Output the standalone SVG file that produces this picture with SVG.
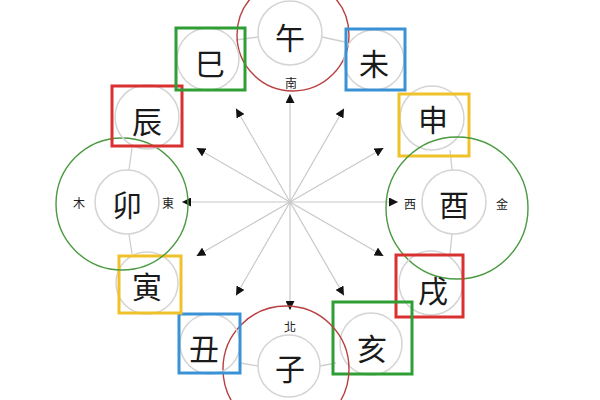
<svg xmlns="http://www.w3.org/2000/svg" width="600" height="400" viewBox="0 0 600 400">
<style>
.bg{fill:#ffffff}
.node{fill:none;stroke:#d4d4d4;stroke-width:1.5}
.ch{font-family:"Noto Sans CJK TC","Noto Sans CJK SC",sans-serif;font-size:30px;fill:#1a1a1a;text-anchor:middle;dominant-baseline:central}
.sm{font-family:"Noto Sans CJK TC","Noto Sans CJK SC",sans-serif;font-size:12px;fill:#222;text-anchor:middle;dominant-baseline:central}
.link{stroke:#cfcfcf;stroke-width:1.3;fill:none}
.arrow{stroke:#c8c8c8;stroke-width:1.2;fill:none;marker-end:url(#ah)}
.ringR{fill:none;stroke:#b84040;stroke-width:1.4}
.ringG{fill:none;stroke:#4a9a40;stroke-width:1.4}
.sqG{fill:none;stroke:#2f9e35;stroke-width:3}
.sqR{fill:none;stroke:#d93030;stroke-width:3}
.sqB{fill:none;stroke:#3a92d6;stroke-width:3}
.sqY{fill:none;stroke:#f0c22a;stroke-width:3}
</style>
<defs>
<marker id="ah" viewBox="0 0 10 10" refX="10" refY="5" markerWidth="9" markerHeight="9" markerUnits="userSpaceOnUse" orient="auto">
<path d="M0,0 L10,5 L0,10 z" fill="#111"/>
</marker>
</defs>
<rect class="bg" x="0" y="0" width="600" height="400"/>

<g id="connectors">
<line class="arrow" x1="290" y1="202" x2="290" y2="94"/>
<line class="arrow" x1="290" y1="202" x2="344" y2="108.5"/>
<line class="arrow" x1="290" y1="202" x2="383.5" y2="148"/>
<line class="arrow" x1="290" y1="202" x2="398" y2="202"/>
<line class="arrow" x1="290" y1="202" x2="383.5" y2="256"/>
<line class="arrow" x1="290" y1="202" x2="344" y2="295.5"/>
<line class="arrow" x1="290" y1="202" x2="290" y2="310"/>
<line class="arrow" x1="290" y1="202" x2="236" y2="295.5"/>
<line class="arrow" x1="290" y1="202" x2="196.5" y2="256"/>
<line class="arrow" x1="290" y1="202" x2="182" y2="202"/>
<line class="arrow" x1="290" y1="202" x2="196.5" y2="148"/>
<line class="arrow" x1="290" y1="202" x2="236" y2="108.5"/>
<line class="link" x1="258" y1="37" x2="236" y2="40"/>
<line class="link" x1="322" y1="37" x2="345" y2="42"/>
<line class="link" x1="258" y1="366" x2="240" y2="363"/>
<line class="link" x1="320" y1="366" x2="336" y2="363"/>
<line class="link" x1="129" y1="170" x2="132" y2="148"/>
<line class="link" x1="129" y1="234" x2="132" y2="254"/>
<line class="link" x1="452" y1="170" x2="450" y2="150"/>
<line class="link" x1="452" y1="234" x2="450" y2="254"/>
</g>

<g id="node-wu">
<circle class="node" cx="290" cy="33" r="32"/>
<text class="ch" x="290" y="36">午</text>
<circle class="ringR" cx="293" cy="35" r="56"/>
<text class="sm" x="291" y="82">南</text>
</g>
<g id="node-wei">
<circle class="node" cx="374" cy="60" r="30"/>
<text class="ch" x="374" y="62">未</text>
<rect class="sqB" x="346" y="29" width="59" height="61"/>
</g>
<g id="node-shen">
<circle class="node" cx="432" cy="118" r="32"/>
<text class="ch" x="433" y="118">申</text>
<rect class="sqY" x="399" y="94" width="70" height="62"/>
</g>
<g id="node-you">
<circle class="node" cx="454" cy="202" r="32"/>
<text class="ch" x="454" y="203">酉</text>
<circle class="ringG" cx="457" cy="208" r="71"/>
<text class="sm" x="410" y="203">西</text>
<text class="sm" x="502" y="203">金</text>
</g>
<g id="node-xu">
<circle class="node" cx="431" cy="283" r="32"/>
<text class="ch" x="433" y="289">戌</text>
<rect class="sqR" x="396" y="255" width="67" height="62"/>
</g>
<g id="node-hai">
<circle class="node" cx="371" cy="344" r="31"/>
<text class="ch" x="372" y="347">亥</text>
<rect class="sqG" x="333" y="302" width="79" height="72"/>
</g>
<g id="node-zi">
<circle class="node" cx="289" cy="366" r="31"/>
<text class="ch" x="290" y="367">子</text>
<circle class="ringR" cx="286" cy="369" r="63"/>
<text class="sm" x="290" y="326">北</text>
</g>
<g id="node-chou">
<circle class="node" cx="210" cy="344" r="30"/>
<text class="ch" x="204" y="347">丑</text>
<rect class="sqB" x="179" y="314" width="61" height="59"/>
</g>
<g id="node-yin">
<circle class="node" cx="147" cy="283" r="31"/>
<text class="ch" x="147" y="285">寅</text>
<rect class="sqY" x="119" y="256" width="62" height="57"/>
</g>
<g id="node-mao">
<circle class="node" cx="127" cy="202" r="32"/>
<text class="ch" x="127" y="203">卯</text>
<circle class="ringG" cx="122" cy="204" r="66"/>
<text class="sm" x="79" y="202">木</text>
<text class="sm" x="168" y="202">東</text>
</g>
<g id="node-chen">
<circle class="node" cx="147" cy="117" r="32"/>
<text class="ch" x="147" y="120">辰</text>
<rect class="sqR" x="112" y="86" width="70" height="60"/>
</g>
<g id="node-si">
<circle class="node" cx="208" cy="59" r="31"/>
<text class="ch" x="210" y="62">巳</text>
<rect class="sqG" x="176" y="28" width="69" height="62"/>
</g>
</svg>
